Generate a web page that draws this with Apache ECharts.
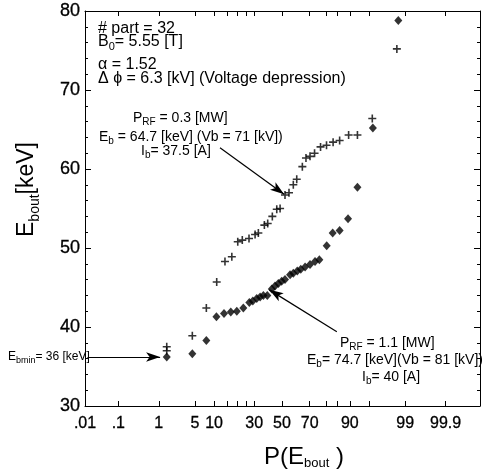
<!DOCTYPE html>
<html>
<head>
<meta charset="utf-8">
<script src="https://cdn.jsdelivr.net/npm/echarts@6/dist/echarts.min.js"></script>
<style>
  html, body { margin: 0; padding: 0; background: #fff; }
  #chart { width: 485px; height: 471px; }
</style>
</head>
<body>
<div id="chart"></div>
<script>
// Cumulative probability P(E_bout) in percent, and bout energy in keV.
// P_RF = 0.3 MW (crosses)
const pLowPower = [1.48, 1.48, 4.53, 7.67, 10.9, 14.1, 17.2, 20.2, 22.7, 26.7, 30.6, 32.8, 37.0, 39.4, 42.8, 46.1, 48.6,
                   52.3, 55.3, 58.5, 61.0, 65.0, 67.5, 70.2, 73.1, 76.7, 80.0, 83.3, 86.2, 89.6, 92.3, 95.6, 98.5];
const eLowPower = [37.0, 37.5, 38.9, 42.4, 45.7, 48.3, 48.9, 50.8, 51.0, 51.2, 51.7, 51.9, 52.9, 53.1, 54.0, 54.9, 55.0,
                   56.7, 57.0, 58.0, 58.7, 60.3, 61.4, 61.6, 62.0, 62.8, 63.0, 63.4, 63.6, 64.3, 64.3, 66.4, 75.2];
// P_RF = 1.1 MW (diamonds)
const pHighPower = [1.48, 4.53, 7.67, 10.8, 13.7, 16.7, 19.7, 23.3, 26.9, 29.1, 31.7, 34.0, 36.3, 39.1, 42.4, 44.8, 47.3,
                    49.8, 52.3, 56.1, 58.5, 61.4, 63.9, 66.9, 70.2, 73.4, 76.0, 80.1, 83.1, 86.2, 89.4, 92.3, 95.7, 98.6];
const eHighPower = [36.2, 36.6, 38.3, 41.3, 41.7, 41.9, 42.0, 42.4, 43.1, 43.3, 43.6, 43.8, 44.0, 44.0, 44.8, 45.2, 45.5,
                    45.8, 46.0, 46.6, 46.8, 47.1, 47.3, 47.6, 47.9, 48.3, 48.5, 50.3, 51.9, 52.2, 53.7, 57.7, 65.2, 78.8];

// Probability axis: labelled and ticked percentages
const xTickLabels = ['.01', '.1', '1', '5', '10', '30', '50', '70', '90', '99', '99.9'];
const xTickMarks = [0.1, 1, 5, 10, 15, 20, 25, 30, 50, 70, 80, 85, 90, 95, 99, 99.9];

// Annotation arrows, [percent, keV] from tail to head
const arrowLowPower = [[12.1, 62.7], [51.6, 56.8]];
const arrowHighPower = [[85.0, 39.4], [40.6, 44.7]];
const arrowEbmin = [[0.012, 36.2], [1.07, 36.2]];

// Inverse of the standard normal CDF (Acklam), maps a probability onto the normal-score axis
function probit(p) {
  const a = [-3.969683028665376e+01, 2.209460984245205e+02, -2.759285104469687e+02, 1.383577518672690e+02, -3.066479806614716e+01, 2.506628277459239e+00];
  const b = [-5.447609879822406e+01, 1.615858368580409e+02, -1.556989798598866e+02, 6.680131188771972e+01, -1.328068155288572e+01];
  const c = [-7.784894002430293e-03, -3.223964580411365e-01, -2.400758277161838e+00, -2.549732539343734e+00, 4.374664141464968e+00, 2.938163982698783e+00];
  const d = [7.784695709041462e-03, 3.224671290700398e-01, 2.445134137142996e+00, 3.754408661907416e+00];
  const pl = 0.02425, ph = 1 - pl;
  let q, r;
  if (p < pl) {
    q = Math.sqrt(-2 * Math.log(p));
    return (((((c[0] * q + c[1]) * q + c[2]) * q + c[3]) * q + c[4]) * q + c[5]) / ((((d[0] * q + d[1]) * q + d[2]) * q + d[3]) * q + 1);
  }
  if (p <= ph) {
    q = p - 0.5; r = q * q;
    return (((((a[0] * r + a[1]) * r + a[2]) * r + a[3]) * r + a[4]) * r + a[5]) * q / (((((b[0] * r + b[1]) * r + b[2]) * r + b[3]) * r + b[4]) * r + 1);
  }
  q = Math.sqrt(-2 * Math.log(1 - p));
  return -(((((c[0] * q + c[1]) * q + c[2]) * q + c[3]) * q + c[4]) * q + c[5]) / ((((d[0] * q + d[1]) * q + d[2]) * q + d[3]) * q + 1);
}
const zOf = pct => probit(pct / 100);

const FONT = '"Liberation Sans", Arial, Helvetica, sans-serif';
const labelZ = xTickLabels.map(s => zOf(parseFloat(s)));
const tickZ = xTickMarks.map(zOf);

function xLabel(v) {
  let best = 0;
  for (let i = 1; i < labelZ.length; i++) {
    if (Math.abs(labelZ[i] - v) < Math.abs(labelZ[best] - v)) best = i;
  }
  return xTickLabels[best];
}

function richStyle(base, sub, lineHeight) {
  return {
    m: { fontFamily: FONT, fontSize: base, lineHeight: lineHeight, color: '#000', verticalAlign: 'middle' },
    s: { fontFamily: FONT, fontSize: sub, lineHeight: sub, color: '#000', verticalAlign: 'bottom' }
  };
}

function note(x, y, text, base, sub, lineHeight) {
  return {
    type: 'text', x: x, y: y, silent: true,
    style: { text: text, align: 'left', verticalAlign: 'middle', rich: richStyle(base, sub, lineHeight) }
  };
}

function arrowLine(pair) {
  return [
    { coord: [zOf(pair[0][0]), pair[0][1]] },
    { coord: [zOf(pair[1][0]), pair[1][1]] }
  ];
}

const xMin = zOf(0.01);
const xMax = 3.74;

const chart = echarts.init(document.getElementById('chart'), null, { renderer: 'canvas' });

const axisLineStyle = { show: true, onZero: false, lineStyle: { color: '#000', width: 1 } };
const tickFont = { fontFamily: FONT, color: '#000', textBorderColor: '#000', textBorderWidth: 0.3 };

chart.setOption({
  animation: false,
  backgroundColor: '#fff',
  grid: { left: 85, right: 5, top: 11, bottom: 65, containLabel: false, outerBoundsMode: 'none' },
  xAxis: [
    {
      type: 'value', position: 'bottom', min: xMin, max: xMax,
      axisLine: axisLineStyle,
      axisTick: { show: true, inside: true, length: 5, customValues: tickZ, lineStyle: { color: '#000' } },
      axisLabel: Object.assign({
        show: true, customValues: labelZ, formatter: xLabel, margin: 10, fontSize: 16
      }, tickFont),
      splitLine: { show: false },
      name: '{m|P(E}{s|bout}{m| )}',
      nameLocation: 'middle', nameGap: 38,
      nameTextStyle: { padding: [0, 0, 0, 43], rich: richStyle(24, 13, 26) }
    },
    {
      type: 'value', position: 'top', min: xMin, max: xMax,
      axisLine: axisLineStyle,
      axisTick: { show: true, inside: true, length: 5, customValues: tickZ, lineStyle: { color: '#000' } },
      axisLabel: { show: false },
      splitLine: { show: false }
    }
  ],
  yAxis: [
    {
      type: 'value', position: 'left', min: 30, max: 80, interval: 10,
      axisLine: axisLineStyle,
      axisTick: { show: true, inside: true, length: 6, lineStyle: { color: '#000' } },
      minorTick: { show: true, splitNumber: 5, length: 3, lineStyle: { color: '#000' } },
      axisLabel: Object.assign({ fontSize: 18, margin: 5 }, tickFont),
      splitLine: { show: false },
      name: '{m|E}{s|bout}{m|[keV]}',
      nameLocation: 'middle', nameRotate: 90, nameGap: 43,
      nameTextStyle: { padding: [0, 0, 0, 38], rich: richStyle(23, 14, 30) }
    },
    {
      type: 'value', position: 'right', min: 30, max: 80, interval: 10,
      axisLine: axisLineStyle,
      axisTick: { show: true, inside: true, length: 6, lineStyle: { color: '#000' } },
      minorTick: { show: true, splitNumber: 5, length: 3, lineStyle: { color: '#000' } },
      axisLabel: { show: false },
      splitLine: { show: false }
    }
  ],
  series: [
    {
      name: 'P_RF = 0.3 MW',
      type: 'scatter',
      data: pLowPower.map((p, i) => [zOf(p), eLowPower[i]]),
      symbol: 'path://M4,0H6V4H10V6H6V10H4V6H0V4H4Z',
      symbolSize: 8,
      itemStyle: { color: '#000' },
      markLine: {
        silent: true, symbol: ['none', 'arrow'], symbolSize: [7, 14],
        label: { show: false },
        lineStyle: { color: '#000', width: 1.2, type: 'solid' },
        data: [arrowLine(arrowLowPower)]
      }
    },
    {
      name: 'P_RF = 1.1 MW',
      type: 'scatter',
      data: pHighPower.map((p, i) => [zOf(p), eHighPower[i]]),
      symbol: 'diamond',
      symbolSize: [8, 9],
      itemStyle: { color: '#000' },
      markLine: {
        silent: true, symbol: ['none', 'arrow'], symbolSize: [7, 14],
        label: { show: false },
        lineStyle: { color: '#000', width: 1.2, type: 'solid' },
        data: [arrowLine(arrowHighPower), arrowLine(arrowEbmin)]
      }
    }
  ],
  graphic: [
    note(98, 29, '{m|# part = 32}', 16, 11, 20),
    note(98, 42, '{m|B}{s|0}{m|= 5.55 [T]}', 16, 11, 20),
    note(98, 65, '{m|\u03b1 = 1.52}', 16, 11, 20),
    note(98, 79, '{m|\u0394 \u03d5 = 6.3 [kV] (Voltage depression)}', 16, 11, 20),

    note(133, 118, '{m|P}{s|RF}{m| = 0.3 [MW]}', 14, 10, 18),
    note(99, 137, '{m|E}{s|b}{m| = 64.7 [keV] (Vb = 71 [kV])}', 14, 10, 18),
    note(141, 151, '{m|I}{s|b}{m|= 37.5 [A]}', 14, 10, 18),

    note(340, 343, '{m|P}{s|RF}{m| = 1.1 [MW]}', 14, 10, 18),
    note(307, 360, '{m|E}{s|b}{m|= 74.7 [keV](Vb = 81 [kV])}', 14, 10, 18),
    note(362, 377, '{m|I}{s|b}{m|= 40 [A]}', 14, 10, 18),

    note(8, 357, '{m|E}{s|bmin}{m|= 36 [keV]}', 12, 9, 16)
  ]
});
</script>
</body>
</html>
